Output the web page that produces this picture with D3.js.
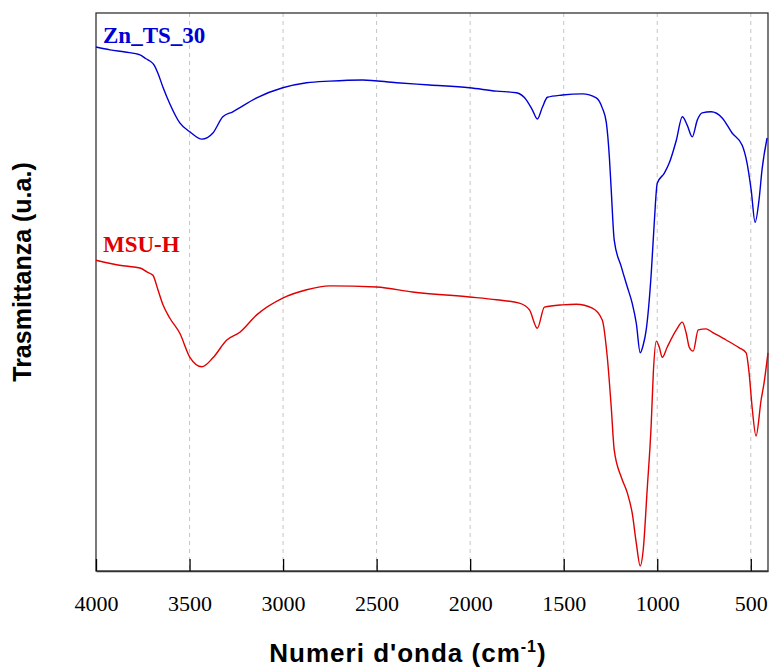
<!DOCTYPE html>
<html>
<head>
<meta charset="utf-8">
<script src="https://cdnjs.cloudflare.com/ajax/libs/d3/7.8.5/d3.min.js"></script>
<style>
  body { margin: 0; background: #fff; }
  svg { display: block; }
</style>
</head>
<body>
<script>
// FTIR spectra - transmittance (a.u.) vs wavenumber (cm-1)

// Zn_TS_30 (blue)
const znWave = [4000, 3925, 3845, 3765, 3733, 3712, 3690, 3669, 3642, 3605, 3552, 3498, 3434, 3375, 3322, 3269,
  3141, 3002, 2874, 2751, 2575, 2393, 2217, 2004, 1859, 1753, 1699, 1667, 1641, 1614, 1587, 1507, 1400, 1326,
  1294, 1272, 1256, 1246, 1230, 1192, 1160, 1134, 1112, 1091, 1075, 1059, 1032, 1016, 1000, 962, 936, 898, 866,
  840, 813, 786, 760, 712, 653, 600, 546, 520, 498, 477, 456, 440, 413];
const znT = [93.9, 93.4, 93.0, 92.5, 91.8, 91.4, 90.7, 89.2, 86.7, 83.7, 80.3, 78.7, 77.4, 78.5, 81.4, 82.3,
  84.8, 86.6, 87.5, 87.8, 88.0, 87.5, 87.1, 86.6, 86.0, 85.7, 84.4, 82.6, 81.0, 83.1, 84.9, 85.3, 85.5, 84.8,
  83.0, 80.3, 74.2, 68.3, 59.3, 54.5, 50.9, 48.0, 44.4, 39.1, 40.5, 43.2, 53.4, 62.4, 69.5, 71.3, 73.1, 77.2, 81.4,
  79.9, 77.8, 80.8, 82.1, 82.3, 81.2, 78.5, 76.3, 73.1, 68.3, 62.5, 66.5, 71.9, 77.6];

// MSU-H (red)
const msuWave = [4000, 3856, 3765, 3728, 3696, 3669, 3642, 3605, 3552, 3498, 3434, 3375, 3301, 3231, 3141, 3002,
  2874, 2751, 2500, 2308, 2004, 1859, 1737, 1683, 1641, 1603, 1507, 1432, 1347, 1294, 1267, 1246, 1230, 1192,
  1160, 1134, 1112, 1091, 1075, 1054, 1032, 1021, 1005, 989, 973, 947, 898, 866, 845, 829, 808, 781, 739, 707,
  632, 562, 525, 509, 493, 472, 445, 429, 408];
const msuT = [55.7, 54.7, 54.3, 53.6, 53.0, 50.4, 47.7, 45.3, 42.6, 38.3, 36.6, 38.2, 41.4, 42.8, 45.9, 48.9,
  50.4, 51.1, 50.9, 50.0, 49.1, 48.6, 48.0, 46.8, 43.5, 47.3, 47.7, 47.8, 47.1, 45.0, 38.3, 29.4, 21.7, 16.8,
  14.0, 10.4, 5.0, 0.9, 3.8, 14.5, 26.5, 35.5, 41.2, 40.1, 38.3, 40.1, 43.2, 44.6, 42.6, 40.1, 39.4, 43.2, 43.4, 42.8,
  41.4, 40.0, 39.1, 35.5, 29.4, 24.2, 30.6, 33.7, 39.1];

const xTicks = [4000, 3500, 3000, 2500, 2000, 1500, 1000, 500];

const seriesNames = ["Zn_TS_30", "MSU-H"];
const seriesColors = ["#0000d4", "#e00000"];
const labelT = [94.6, 57.2];   // label baseline, in transmittance units

const W = 770, H = 668;
const m = {left: 96, right: 2, top: 13, bottom: 97};
const serif = "Liberation Serif, Times New Roman, serif";
const sans = "Liberation Sans, Arial, sans-serif";

const svg = d3.select("body").append("svg")
  .attr("width", W)
  .attr("height", H);

const x = d3.scaleLinear().domain([4000, 408]).range([m.left, W - m.right]);
const y = d3.scaleLinear().domain([0, 100]).range([H - m.bottom, m.top]);

// vertical dashed grid
svg.append("g")
  .selectAll("line")
  .data(xTicks.filter(d => d < 4000))
  .join("line")
  .attr("x1", d => x(d)).attr("x2", d => x(d))
  .attr("y1", y(100)).attr("y2", y(0))
  .attr("stroke", "#c4c4c4")
  .attr("stroke-width", 1)
  .attr("stroke-dasharray", "4,4");

// frame
svg.append("rect")
  .attr("x", m.left).attr("y", m.top)
  .attr("width", W - m.right - m.left)
  .attr("height", H - m.bottom - m.top)
  .attr("fill", "none")
  .attr("stroke", "#333")
  .attr("stroke-width", 1.3);

// x axis with inward ticks
const xAxis = svg.append("g")
  .attr("transform", `translate(0,${H - m.bottom})`)
  .call(d3.axisBottom(x).tickValues(xTicks).tickFormat(d3.format("d"))
    .tickSizeInner(-12).tickSizeOuter(0).tickPadding(24))
  .attr("font-family", serif)
  .attr("font-size", 22);
xAxis.select(".domain").attr("stroke", "#333").attr("stroke-width", 1.3);
xAxis.selectAll(".tick line").attr("stroke", "#000").attr("stroke-width", 1.3);
xAxis.selectAll(".tick text").attr("fill", "#000");

// spectra
const line = d3.line()
  .x(d => x(d[0]))
  .y(d => y(d[1]))
  .curve(d3.curveMonotoneX);

const series = [
  d3.zip(znWave, znT),
  d3.zip(msuWave, msuT)
];

svg.append("g")
  .selectAll("path")
  .data(series)
  .join("path")
  .attr("d", line)
  .attr("fill", "none")
  .attr("stroke", (d, i) => seriesColors[i])
  .attr("stroke-width", 1.4);

// series labels
svg.selectAll(".slabel")
  .data(seriesNames)
  .join("text")
  .attr("class", "slabel")
  .attr("x", x(4000) + 7)
  .attr("y", (d, i) => y(labelT[i]))
  .attr("font-family", serif)
  .attr("font-weight", "bold")
  .attr("font-size", 23)
  .attr("fill", (d, i) => seriesColors[i])
  .text(d => d);

// axis titles
const xt = svg.append("text")
  .attr("x", 408)
  .attr("y", 662)
  .attr("text-anchor", "middle")
  .attr("font-family", sans)
  .attr("font-weight", "bold")
  .attr("font-size", 26)
  .attr("letter-spacing", 1)
  .attr("fill", "#000");
xt.append("tspan").text("Numeri d'onda (cm");
xt.append("tspan").attr("dy", -10).attr("font-size", 16).text("-1");
xt.append("tspan").attr("dy", 10).text(")");

svg.append("text")
  .attr("transform", "translate(31,272) rotate(-90)")
  .attr("text-anchor", "middle")
  .attr("font-family", sans)
  .attr("font-weight", "bold")
  .attr("font-size", 25)
  .attr("fill", "#000")
  .text("Trasmittanza (u.a.)");
</script>
</body>
</html>
